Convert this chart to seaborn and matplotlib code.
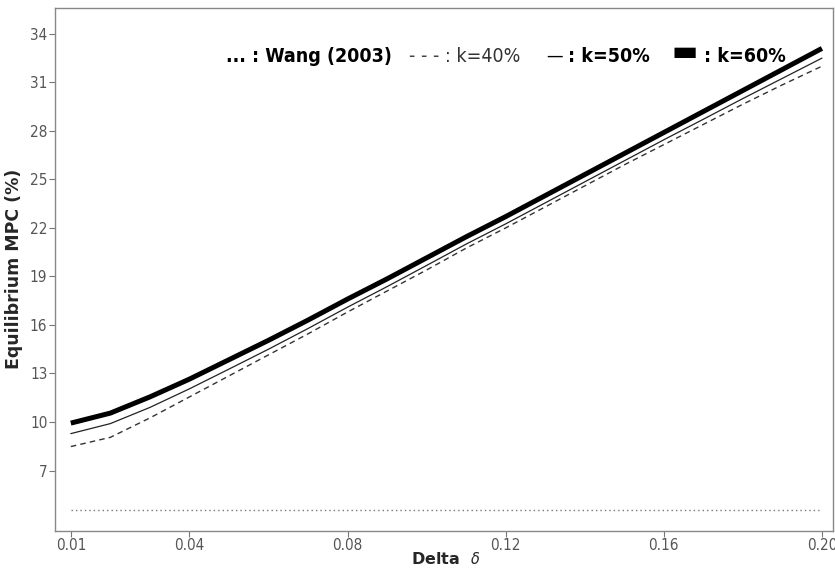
import matplotlib
matplotlib.use("Agg")
import matplotlib.pyplot as plt
import seaborn as sns
import pandas as pd

# ---- data ----
delta = [0.01, 0.02, 0.03, 0.04, 0.05, 0.06, 0.07, 0.08, 0.09, 0.10,
         0.11, 0.12, 0.13, 0.14, 0.15, 0.16, 0.17, 0.18, 0.19, 0.20]
k60 = [9.93, 10.55, 11.55, 12.65, 13.85, 15.05, 16.3, 17.6, 18.85, 20.15,
       21.45, 22.7, 24.0, 25.3, 26.6, 27.9, 29.2, 30.5, 31.8, 33.1]
k50 = [9.28, 9.9, 10.9, 12.05, 13.27, 14.5, 15.78, 17.1, 18.37, 19.68,
       21.0, 22.25, 23.55, 24.85, 26.15, 27.45, 28.72, 30.0, 31.25, 32.5]
k40 = [8.48, 9.05, 10.25, 11.55, 12.85, 14.15, 15.45, 16.8, 18.1, 19.4,
       20.75, 22.0, 23.3, 24.6, 25.9, 27.15, 28.4, 29.65, 30.85, 32.0]
wang = [4.53] * len(delta)

xticks = [0.01, 0.04, 0.08, 0.12, 0.16, 0.20]
xticklabels = ["0.01", "0.04", "0.08", "0.12", "0.16", "0.20"]
yticks = [7, 10, 13, 16, 19, 22, 25, 28, 31, 34]

df = pd.DataFrame({"delta": delta, "k60": k60, "k50": k50, "k40": k40, "wang": wang})

sns.set_theme(style="white")
plt.rcParams["font.family"] = ["DejaVu Sans"]
plt.rcParams["font.stretch"] = "condensed"

fig = plt.figure(figsize=(8.35, 5.71), dpi=100)
ax = fig.add_axes([55 / 835, 1 - 530.5 / 571, (833 - 55) / 835, (530.5 - 8) / 571])

sns.lineplot(data=df, x="delta", y="wang", ax=ax, color="#777777", lw=1.0,
             linestyle=(0, (1, 2.2)))
sns.lineplot(data=df, x="delta", y="k40", ax=ax, color="#333333", lw=1.0,
             linestyle=(0, (4, 3)))
sns.lineplot(data=df, x="delta", y="k50", ax=ax, color="#222222", lw=0.9)
sns.lineplot(data=df, x="delta", y="k60", ax=ax, color="black", lw=3.6,
             solid_capstyle="butt")

ax.set_xlim(0.006, 0.2028)
ax.set_ylim(3.29, 35.6)
ax.set_xticks(xticks)
ax.set_xticklabels(xticklabels)
ax.set_yticks(yticks)
ax.tick_params(axis="both", direction="out", length=4, width=0.8,
               color="#777777", labelcolor="#555555", labelsize=11,
               left=True, bottom=True, pad=1.5)
for s in ax.spines.values():
    s.set_color("#888888")
    s.set_linewidth(1.0)

ax.set_xlabel("Delta  $\\delta$", fontsize=11.5, fontweight="bold",
              fontstretch="normal")
ax.xaxis.set_label_coords((446 - 55) / (833 - 55), (530.5 - 551) / (530.5 - 8))
ax.set_ylabel("Equilibrium MPC (%)", fontsize=12.5, fontweight="bold",
              fontstretch="normal", labelpad=5)

# text-style legend at the top
leg_y = 1 - (56 - 8) / (530.5 - 8)
def px(x):
    return (x - 55) / (833 - 55)
ax.text(px(226), leg_y, "... : Wang (2003)", transform=ax.transAxes, fontsize=14,
        fontweight="bold", va="center", ha="left", color="black")
ax.text(px(409), leg_y, "- - -", transform=ax.transAxes, fontsize=14,
        va="center", ha="left", color="#444444")
ax.text(px(445), leg_y, ": k=40%", transform=ax.transAxes, fontsize=14,
        va="center", ha="left", color="#333333")
ax.text(px(546), leg_y, "\u2014", transform=ax.transAxes, fontsize=12,
        va="center", ha="left", color="black", fontstretch="normal")
ax.text(px(568), leg_y, ": k=50%", transform=ax.transAxes, fontsize=14,
        fontweight="bold", va="center", ha="left", color="black")
ax.text(px(672), leg_y + 0.008, "\u25ac", transform=ax.transAxes, fontsize=20,
        fontweight="bold", va="center", ha="left", color="black",
        fontstretch="normal")
ax.text(px(704), leg_y, ": k=60%", transform=ax.transAxes, fontsize=14,
        fontweight="bold", va="center", ha="left", color="black")

fig.savefig("out.png", dpi=100)
